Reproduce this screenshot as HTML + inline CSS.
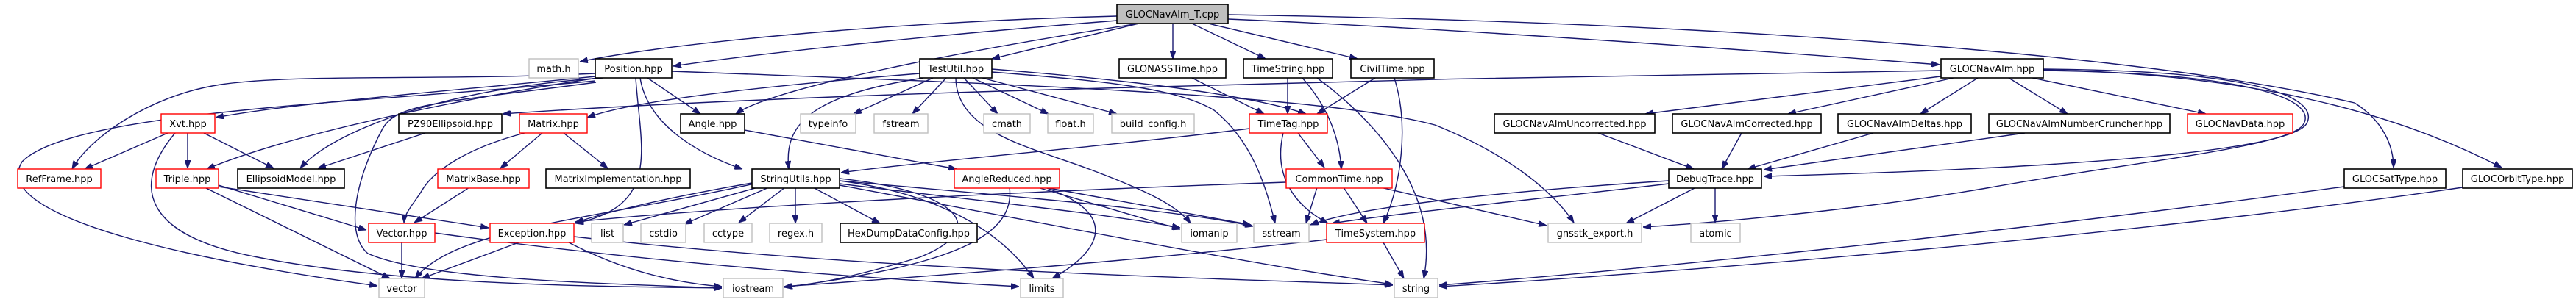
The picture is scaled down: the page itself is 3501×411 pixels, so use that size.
<!DOCTYPE html>
<html><head><meta charset="utf-8"><style>
html,body{margin:0;padding:0;background:#fff;}
svg{display:block;}
text{font-family:"DejaVu Sans","Liberation Sans",sans-serif;font-size:13px;fill:#000;}
.b{fill:#fff;stroke:#000;stroke-width:1.6}
.r{fill:#fff;stroke:#ff0000;stroke-width:1.4}
.g{fill:#fff;stroke:#bfbfbf;stroke-width:1.4}
.root{fill:#bfbfbf;stroke:#000;stroke-width:1.6}
.e path{fill:none;stroke:#191970;stroke-width:1.4;marker-end:url(#a)}
</style></head><body>
<svg width="3501" height="411" viewBox="0 0 3501 411" xmlns="http://www.w3.org/2000/svg">
<defs><marker id="a" markerUnits="userSpaceOnUse" markerWidth="11" markerHeight="8" refX="11" refY="4" orient="auto"><path d="M0,0 L11,4 L0,8 z" fill="#191970" stroke="#191970"/></marker></defs>
<g class="e">
<path d="M1518,22 C1200,30 900,60 788,84"/>
<path d="M1518,28 C1300,45 1050,70 915,90"/>
<path d="M1548,32 L1348,80"/>
<path d="M1594,32 L1594,80"/>
<path d="M1620,32 L1720,80"/>
<path d="M1642,32 L1845,80"/>
<path d="M1669,26 C2000,40 2400,70 2636,88"/>
<path d="M1548,32 C1300,70 1050,120 1000,155"/>
<path d="M1669,20 C2300,30 2900,70 3200,140 C3240,165 3253,200 3253,228"/>
<path d="M2645,103 L2236,155"/>
<path d="M2655,106 L2430,155"/>
<path d="M2688,106 L2610,155"/>
<path d="M2730,106 L2810,155"/>
<path d="M2762,106 L2998,155"/>
<path d="M2777,94 C3100,96 3150,140 3135,168 C3120,195 2950,225 2397,240"/>
<path d="M2777,96 C3080,100 3150,140 3130,170 C3110,200 2900,220 2700,256 C2500,290 2300,305 2233,309"/>
<path d="M2777,95 C3050,100 3250,150 3400,228"/>
<path d="M2638,96 C2200,102 1900,108 1500,120 C1200,128 900,140 683,155"/>
<path d="M809,104 C600,125 400,140 293,160"/>
<path d="M809,100 C600,110 400,100 300,115 C200,130 120,190 98,230"/>
<path d="M812,106 C650,130 400,180 281,230"/>
<path d="M820,106 C600,120 450,180 408,229"/>
<path d="M880,106 L952,155"/>
<path d="M870,106 C880,170 950,210 1009,230"/>
<path d="M864,106 C870,200 900,280 782,304"/>
<path d="M913,97 C1400,115 1800,130 1950,170 C2050,210 2110,260 2139,303"/>
<path d="M809,110 C500,140 100,150 30,220 C-20,300 300,360 513,389"/>
<path d="M810,112 C600,140 540,140 520,175 C480,250 470,320 500,345 C580,380 800,385 981,392"/>
<path d="M1268,106 L1160,155"/>
<path d="M1286,106 L1240,155"/>
<path d="M1310,106 L1356,155"/>
<path d="M1322,106 L1425,155"/>
<path d="M1335,106 L1518,155"/>
<path d="M1255,106 C1100,130 1065,170 1072,230"/>
<path d="M1299,106 C1300,180 1400,200 1480,230 C1560,260 1600,280 1618,304"/>
<path d="M1348,98 C1500,110 1600,120 1650,150 C1700,190 1720,250 1733,304"/>
<path d="M1348,94 C1550,110 1700,130 1775,155"/>
<path d="M1250,100 C1000,120 850,140 798,160"/>
<path d="M1620,106 L1718,155"/>
<path d="M1750,106 L1750,155"/>
<path d="M1770,106 C1800,140 1820,180 1823,230"/>
<path d="M1869,106 L1790,155"/>
<path d="M1895,106 C1915,170 1905,250 1880,304"/>
<path d="M1790,106 C1850,150 1960,250 1935,379"/>
<path d="M1698,175 C1500,200 1250,220 1143,235"/>
<path d="M1764,181 L1800,228"/>
<path d="M1744,181 C1730,240 1760,280 1805,304"/>
<path d="M1748,248 C1400,260 1000,280 782,302"/>
<path d="M1826,255 L1858,304"/>
<path d="M1876,255 L2102,307"/>
<path d="M1790,255 L1775,304"/>
<path d="M1880,330 L1908,379"/>
<path d="M1803,326 C1500,360 1200,380 1066,390"/>
<path d="M2305,255 L2210,304"/>
<path d="M2331,255 L2331,303"/>
<path d="M2268,246 C2050,260 1850,280 1781,306"/>
<path d="M2268,250 C2100,270 1900,290 1810,304"/>
<path d="M2172,181 L2302,230"/>
<path d="M2367,181 L2340,230"/>
<path d="M2546,181 L2375,230"/>
<path d="M2752,181 L2397,231"/>
<path d="M3186,254 C2700,320 2200,370 1956,388"/>
<path d="M3347,255 C2900,320 2300,370 1956,390"/>
<path d="M228,181 L115,230"/>
<path d="M255,181 L255,229"/>
<path d="M277,181 L372,229"/>
<path d="M238,181 C180,250 190,320 350,350 C550,390 850,390 981,392"/>
<path d="M578,181 L432,229"/>
<path d="M713,181 C640,200 590,230 573,260 C560,280 550,290 549,303"/>
<path d="M737,181 L680,229"/>
<path d="M766,181 L826,229"/>
<path d="M638,255 L563,303"/>
<path d="M297,252 L498,313"/>
<path d="M297,254 L664,310"/>
<path d="M278,255 L530,379"/>
<path d="M546,330 L546,379"/>
<path d="M591,317 C900,360 1200,380 1385,390"/>
<path d="M705,330 L573,379"/>
<path d="M773,330 C850,370 920,385 981,390"/>
<path d="M780,322 C1200,370 1700,380 1893,388"/>
<path d="M1022,249 C900,270 820,290 782,303"/>
<path d="M1030,255 L848,306"/>
<path d="M1045,255 L930,305"/>
<path d="M1067,255 L1004,303"/>
<path d="M1081,255 L1081,304"/>
<path d="M1105,255 L1196,304"/>
<path d="M1141,250 C1300,270 1500,290 1604,310"/>
<path d="M1141,246 C1350,265 1600,285 1703,308"/>
<path d="M1141,243 C1300,260 1350,310 1250,350 C1150,380 1100,388 1066,390"/>
<path d="M1141,246 C1250,260 1350,300 1405,379"/>
<path d="M1141,252 C1400,300 1700,360 1893,387"/>
<path d="M1025,250 C800,300 620,310 564,379"/>
<path d="M1410,255 L1604,312"/>
<path d="M1420,255 L1700,306"/>
<path d="M1372,255 C1380,320 1300,360 1066,391"/>
<path d="M1420,255 C1520,290 1500,340 1430,379"/>
<path d="M1012,177 L1300,230"/>
</g>
<g>
<rect class="root" x="1518" y="6" width="151" height="26"/><text x="1593.5" y="24" text-anchor="middle">GLOCNavAlm_T.cpp</text>
<rect class="g" x="719" y="80" width="67" height="26"/><text x="752.5" y="98" text-anchor="middle">math.h</text>
<rect class="b" x="809" y="80" width="104" height="26"/><text x="861" y="98" text-anchor="middle">Position.hpp</text>
<rect class="b" x="1250" y="80" width="98" height="26"/><text x="1299" y="98" text-anchor="middle">TestUtil.hpp</text>
<rect class="b" x="1521" y="80" width="145" height="26"/><text x="1593.5" y="98" text-anchor="middle">GLONASSTime.hpp</text>
<rect class="b" x="1690" y="80" width="121" height="26"/><text x="1750.5" y="98" text-anchor="middle">TimeString.hpp</text>
<rect class="b" x="1836" y="80" width="113" height="26"/><text x="1892.5" y="98" text-anchor="middle">CivilTime.hpp</text>
<rect class="b" x="2638" y="80" width="139" height="26"/><text x="2707.5" y="98" text-anchor="middle">GLOCNavAlm.hpp</text>
<rect class="r" x="219" y="155" width="73" height="26"/><text x="255.5" y="173" text-anchor="middle">Xvt.hpp</text>
<rect class="b" x="542" y="155" width="140" height="26"/><text x="612" y="173" text-anchor="middle">PZ90Ellipsoid.hpp</text>
<rect class="r" x="706" y="155" width="92" height="26"/><text x="752" y="173" text-anchor="middle">Matrix.hpp</text>
<rect class="b" x="925" y="155" width="87" height="26"/><text x="968.5" y="173" text-anchor="middle">Angle.hpp</text>
<rect class="g" x="1088" y="155" width="75" height="26"/><text x="1125.5" y="173" text-anchor="middle">typeinfo</text>
<rect class="g" x="1188" y="155" width="73" height="26"/><text x="1224.5" y="173" text-anchor="middle">fstream</text>
<rect class="g" x="1337" y="155" width="63" height="26"/><text x="1368.5" y="173" text-anchor="middle">cmath</text>
<rect class="g" x="1424" y="155" width="62" height="26"/><text x="1455" y="173" text-anchor="middle">float.h</text>
<rect class="g" x="1511" y="155" width="112" height="26"/><text x="1567" y="173" text-anchor="middle">build_config.h</text>
<rect class="r" x="1698" y="155" width="106" height="26"/><text x="1751" y="173" text-anchor="middle">TimeTag.hpp</text>
<rect class="b" x="2031" y="155" width="218" height="26"/><text x="2140" y="173" text-anchor="middle">GLOCNavAlmUncorrected.hpp</text>
<rect class="b" x="2273" y="155" width="202" height="26"/><text x="2374" y="173" text-anchor="middle">GLOCNavAlmCorrected.hpp</text>
<rect class="b" x="2498" y="155" width="181" height="26"/><text x="2588.5" y="173" text-anchor="middle">GLOCNavAlmDeltas.hpp</text>
<rect class="b" x="2703" y="155" width="246" height="26"/><text x="2826" y="173" text-anchor="middle">GLOCNavAlmNumberCruncher.hpp</text>
<rect class="r" x="2973" y="155" width="143" height="26"/><text x="3044.5" y="173" text-anchor="middle">GLOCNavData.hpp</text>
<rect class="r" x="24" y="230" width="113" height="26"/><text x="80.5" y="248" text-anchor="middle">RefFrame.hpp</text>
<rect class="r" x="212" y="230" width="85" height="26"/><text x="254.5" y="248" text-anchor="middle">Triple.hpp</text>
<rect class="b" x="323" y="230" width="145" height="26"/><text x="395.5" y="248" text-anchor="middle">EllipsoidModel.hpp</text>
<rect class="r" x="595" y="230" width="124" height="26"/><text x="657" y="248" text-anchor="middle">MatrixBase.hpp</text>
<rect class="b" x="742" y="230" width="196" height="26"/><text x="840" y="248" text-anchor="middle">MatrixImplementation.hpp</text>
<rect class="b" x="1022" y="230" width="119" height="26"/><text x="1081.5" y="248" text-anchor="middle">StringUtils.hpp</text>
<rect class="r" x="1297" y="230" width="143" height="26"/><text x="1368.5" y="248" text-anchor="middle">AngleReduced.hpp</text>
<rect class="r" x="1748" y="230" width="144" height="26"/><text x="1820" y="248" text-anchor="middle">CommonTime.hpp</text>
<rect class="b" x="2268" y="230" width="126" height="26"/><text x="2331" y="248" text-anchor="middle">DebugTrace.hpp</text>
<rect class="b" x="3186" y="230" width="138" height="26"/><text x="3255" y="248" text-anchor="middle">GLOCSatType.hpp</text>
<rect class="b" x="3347" y="230" width="149" height="26"/><text x="3421.5" y="248" text-anchor="middle">GLOCOrbitType.hpp</text>
<rect class="r" x="501" y="304" width="90" height="26"/><text x="546" y="322" text-anchor="middle">Vector.hpp</text>
<rect class="r" x="666" y="304" width="114" height="26"/><text x="723" y="322" text-anchor="middle">Exception.hpp</text>
<rect class="g" x="804" y="304" width="43" height="26"/><text x="825.5" y="322" text-anchor="middle">list</text>
<rect class="g" x="871" y="304" width="61" height="26"/><text x="901.5" y="322" text-anchor="middle">cstdio</text>
<rect class="g" x="957" y="304" width="65" height="26"/><text x="989.5" y="322" text-anchor="middle">cctype</text>
<rect class="g" x="1046" y="304" width="71" height="26"/><text x="1081.5" y="322" text-anchor="middle">regex.h</text>
<rect class="b" x="1142" y="304" width="186" height="26"/><text x="1235" y="322" text-anchor="middle">HexDumpDataConfig.hpp</text>
<rect class="g" x="1606" y="304" width="75" height="26"/><text x="1643.5" y="322" text-anchor="middle">iomanip</text>
<rect class="g" x="1704" y="304" width="75" height="26"/><text x="1741.5" y="322" text-anchor="middle">sstream</text>
<rect class="r" x="1803" y="304" width="133" height="26"/><text x="1869.5" y="322" text-anchor="middle">TimeSystem.hpp</text>
<rect class="g" x="2104" y="304" width="127" height="26"/><text x="2167.5" y="322" text-anchor="middle">gnsstk_export.h</text>
<rect class="g" x="2298" y="304" width="67" height="26"/><text x="2331.5" y="322" text-anchor="middle">atomic</text>
<rect class="g" x="515" y="379" width="62" height="26"/><text x="546" y="397" text-anchor="middle">vector</text>
<rect class="g" x="983" y="379" width="81" height="26"/><text x="1023.5" y="397" text-anchor="middle">iostream</text>
<rect class="g" x="1387" y="379" width="58" height="26"/><text x="1416" y="397" text-anchor="middle">limits</text>
<rect class="g" x="1895" y="379" width="59" height="26"/><text x="1924.5" y="397" text-anchor="middle">string</text>
</g>
</svg>
</body></html>
